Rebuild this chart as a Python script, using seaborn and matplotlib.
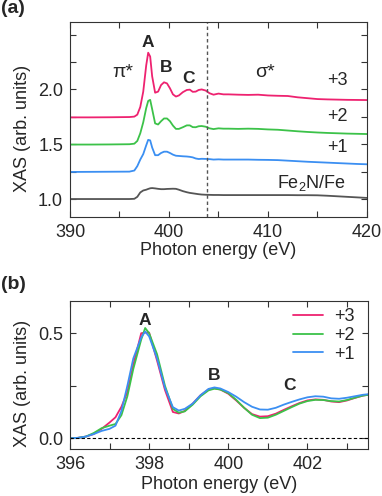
import numpy as np
import pandas as pd
import matplotlib
matplotlib.use('Agg')
import matplotlib.pyplot as plt
import seaborn as sns
from matplotlib.ticker import MultipleLocator

# ---- panel (a): full N K-edge spectra, offset for clarity ----
energy_a = [390, 392, 394, 396, 396.5, 396.8, 397.1, 397.4, 397.7, 397.9, 398.1, 398.3,
            398.6, 398.9, 399.2, 399.5, 399.8, 400.1, 400.4, 400.7, 401.0, 401.4, 401.8,
            402.1, 402.4, 402.7, 403.0, 403.3, 403.7, 404.1, 404.5, 405, 405.5, 406, 407,
            408, 409, 410, 411, 412, 413, 414, 415, 416, 417, 418, 419, 420]
xas_p3 = [1.745, 1.745, 1.746, 1.748, 1.752, 1.77, 1.84, 1.98, 2.22, 2.335, 2.30, 2.12,
          1.97, 1.98, 2.04, 2.065, 2.055, 2.01, 1.955, 1.935, 1.945, 1.975, 1.995,
          1.998, 1.978, 1.98, 1.995, 2.0, 1.99, 1.965, 1.952, 1.962, 1.955, 1.955, 1.952,
          1.950, 1.952, 1.945, 1.942, 1.94, 1.928, 1.92, 1.912, 1.909, 1.907, 1.905, 1.904, 1.903]
xas_p2 = [1.497, 1.497, 1.498, 1.5, 1.505, 1.53, 1.6, 1.70, 1.83, 1.895, 1.905, 1.82,
          1.69, 1.68, 1.71, 1.735, 1.735, 1.71, 1.67, 1.64, 1.64, 1.655, 1.672,
          1.672, 1.656, 1.655, 1.664, 1.666, 1.66, 1.645, 1.638, 1.645, 1.642, 1.642, 1.64,
          1.642, 1.64, 1.635, 1.632, 1.625, 1.618, 1.612, 1.607, 1.603, 1.600, 1.597, 1.595, 1.593]
xas_p1 = [1.247, 1.248, 1.249, 1.25, 1.26, 1.30, 1.36, 1.41, 1.49, 1.54, 1.535, 1.47,
          1.40, 1.40, 1.42, 1.432, 1.432, 1.42, 1.405, 1.395, 1.393, 1.39, 1.388,
          1.385, 1.38, 1.37, 1.365, 1.367, 1.366, 1.364, 1.36, 1.362, 1.36, 1.36, 1.36,
          1.36, 1.358, 1.357, 1.355, 1.35, 1.345, 1.34, 1.336, 1.332, 1.328, 1.324, 1.32, 1.317]
xas_ref = [1.0, 1.0, 1.0, 1.0, 1.002, 1.02, 1.06, 1.078, 1.085, 1.092, 1.098, 1.10,
           1.097, 1.093, 1.09, 1.09, 1.092, 1.093, 1.094, 1.093, 1.085, 1.072, 1.062,
           1.056, 1.052, 1.048, 1.044, 1.041, 1.039, 1.038, 1.037, 1.037, 1.036, 1.036, 1.036,
           1.036, 1.036, 1.036, 1.036, 1.036, 1.035, 1.035, 1.034, 1.03, 1.025, 1.02, 1.015, 1.01]

# ---- panel (b): pre-edge zoom, background removed ----
energy_b = [396.0, 396.2, 396.4, 396.6, 396.8, 397.0, 397.15, 397.3, 397.45, 397.6, 397.8,
            397.9, 398.0, 398.2, 398.4, 398.6, 398.75, 398.9, 399.1, 399.3, 399.5, 399.65,
            399.8, 400.0, 400.2, 400.4, 400.6, 400.8, 401.0, 401.2, 401.4, 401.6, 401.8,
            402.0, 402.2, 402.4, 402.6, 402.8, 403.0, 403.2, 403.4, 403.55]
b_p3 = [0.0, 0.002, 0.008, 0.02, 0.045, 0.075, 0.10, 0.15, 0.22, 0.35, 0.50,
        0.503, 0.503, 0.37, 0.23, 0.125, 0.118, 0.13, 0.165, 0.205, 0.232, 0.238,
        0.232, 0.212, 0.18, 0.145, 0.115, 0.103, 0.105, 0.117, 0.135, 0.152, 0.168,
        0.18, 0.185, 0.183, 0.175, 0.172, 0.18, 0.192, 0.203, 0.208]
b_p2 = [0.0, 0.002, 0.008, 0.025, 0.048, 0.06, 0.068, 0.11, 0.20, 0.33, 0.47,
        0.525, 0.50, 0.40, 0.25, 0.14, 0.122, 0.128, 0.16, 0.2, 0.228, 0.236,
        0.232, 0.215, 0.183, 0.145, 0.112, 0.096, 0.098, 0.112, 0.13, 0.148, 0.165,
        0.177, 0.183, 0.182, 0.177, 0.175, 0.182, 0.193, 0.203, 0.207]
b_p1 = [0.0, 0.002, 0.008, 0.02, 0.035, 0.045, 0.06, 0.13, 0.25, 0.38, 0.48,
        0.508, 0.485, 0.38, 0.24, 0.148, 0.132, 0.14, 0.165, 0.205, 0.235, 0.242,
        0.237, 0.22, 0.198, 0.172, 0.15, 0.137, 0.136, 0.145, 0.16, 0.173, 0.185,
        0.195, 0.2, 0.198, 0.19, 0.188, 0.193, 0.2, 0.207, 0.21]

series_names = ['+3', '+2', '+1', 'Fe2N/Fe']
colors = {'+3': '#ee2270', '+2': '#3cc249', '+1': '#3b8ff2', 'Fe2N/Fe': '#555555'}

sns.set_style('ticks')
plt.rcParams['font.family'] = ['Liberation Sans', 'DejaVu Sans']
plt.rcParams['mathtext.fontset'] = 'custom'
plt.rcParams['mathtext.rm'] = 'Liberation Sans'

df_a = pd.concat([
    pd.DataFrame({'energy': energy_a, 'xas': y, 'sample': name})
    for name, y in zip(series_names, [xas_p3, xas_p2, xas_p1, xas_ref])
])
df_b = pd.concat([
    pd.DataFrame({'energy': energy_b, 'xas': y, 'sample': name})
    for name, y in zip(series_names[:3], [b_p3, b_p2, b_p1])
])

fig = plt.figure(figsize=(3.82, 4.96), dpi=100)
ax1 = fig.add_axes([0.1832, 0.5625, 0.7775, 0.3931])
ax2 = fig.add_axes([0.1832, 0.0948, 0.7801, 0.2990])

fs = 13

# (a)
sns.lineplot(data=df_a, x='energy', y='xas', hue='sample', palette=colors,
             lw=1.3, legend=False, ax=ax1, estimator=None, sort=False)
ax1.axvline(403.8, color='#555555', ls=(0, (2.5, 2)), lw=1)
ax1.set_xlim(390, 420)
ax1.set_ylim(0.836, 2.615)
ax1.set_xticks([390, 400, 410, 420])
ax1.xaxis.set_minor_locator(MultipleLocator(5))
ax1.set_yticks([1.0, 1.5, 2.0, 2.5])
ax1.set_yticklabels(['1.0', '1.5', '2.0', ''])
ax1.yaxis.set_minor_locator(MultipleLocator(0.25))
ax1.set_xlabel('Photon energy (eV)', fontsize=fs, labelpad=1)
ax1.set_ylabel('XAS (arb. units)', fontsize=fs)
ax1.yaxis.set_label_coords(-0.13, 0.456)

for txt, x, y in [('A', 397.9, 2.43), ('B', 399.7, 2.2), ('C', 402.0, 2.1)]:
    ax1.text(x, y, txt, fontsize=12.5, fontweight='bold', ha='center', va='center')
ax1.text(395.3, 2.15, 'π*', fontsize=14, ha='center', va='center')
ax1.text(409.7, 2.15, 'σ*', fontsize=14, ha='center', va='center')
for txt, y in [('+3', 2.08), ('+2', 1.75), ('+1', 1.47)]:
    ax1.text(417.0, y, txt, fontsize=fs, ha='center', va='center')
ax1.text(414.4, 1.15, r'Fe$_2$N/Fe', fontsize=fs, ha='center', va='center')

# (b)
sns.lineplot(data=df_b, x='energy', y='xas', hue='sample', palette=colors,
             lw=1.3, ax=ax2, estimator=None, sort=False)
ax2.axhline(0, color='black', ls=(0, (3, 2)), lw=0.8)
ax2.set_xlim(396, 403.53)
ax2.set_ylim(-0.051, 0.655)
ax2.set_xticks([396, 398, 400, 402])
ax2.xaxis.set_minor_locator(MultipleLocator(1))
ax2.set_yticks([0.0, 0.5])
ax2.set_yticklabels(['0.0', '0.5'])
ax2.yaxis.set_minor_locator(MultipleLocator(0.25))
ax2.set_xlabel('Photon energy (eV)', fontsize=fs, labelpad=2)
ax2.set_ylabel('XAS (arb. units)', fontsize=fs)
ax2.yaxis.set_label_coords(-0.13, 0.44)
ax2.legend(loc='upper right', bbox_to_anchor=(0.955, 0.95), frameon=False,
           fontsize=fs, handlelength=1.65, handletextpad=0.6, labelspacing=0.1,
           borderpad=0, borderaxespad=0)
for txt, x, y in [('A', 397.9, 0.563), ('B', 399.64, 0.30), ('C', 401.55, 0.249)]:
    ax2.text(x, y, txt, fontsize=12.5, fontweight='bold', ha='center', va='center')

for ax in (ax1, ax2):
    ax.tick_params(which='both', direction='in', top=True, right=True,
                   labelsize=fs, color='#333333')
    ax.tick_params(which='major', length=4, width=0.8, pad=5)
    ax.tick_params(which='minor', length=4, width=0.8)
    for s in ax.spines.values():
        s.set_linewidth(0.8)
        s.set_color('#333333')

fig.text(0.003, 0.982, '(a)', fontsize=14, fontweight='bold', va='center', ha='left')
fig.text(0.003, 0.427, '(b)', fontsize=14, fontweight='bold', va='center', ha='left')

fig.savefig('out.png', dpi=100)
